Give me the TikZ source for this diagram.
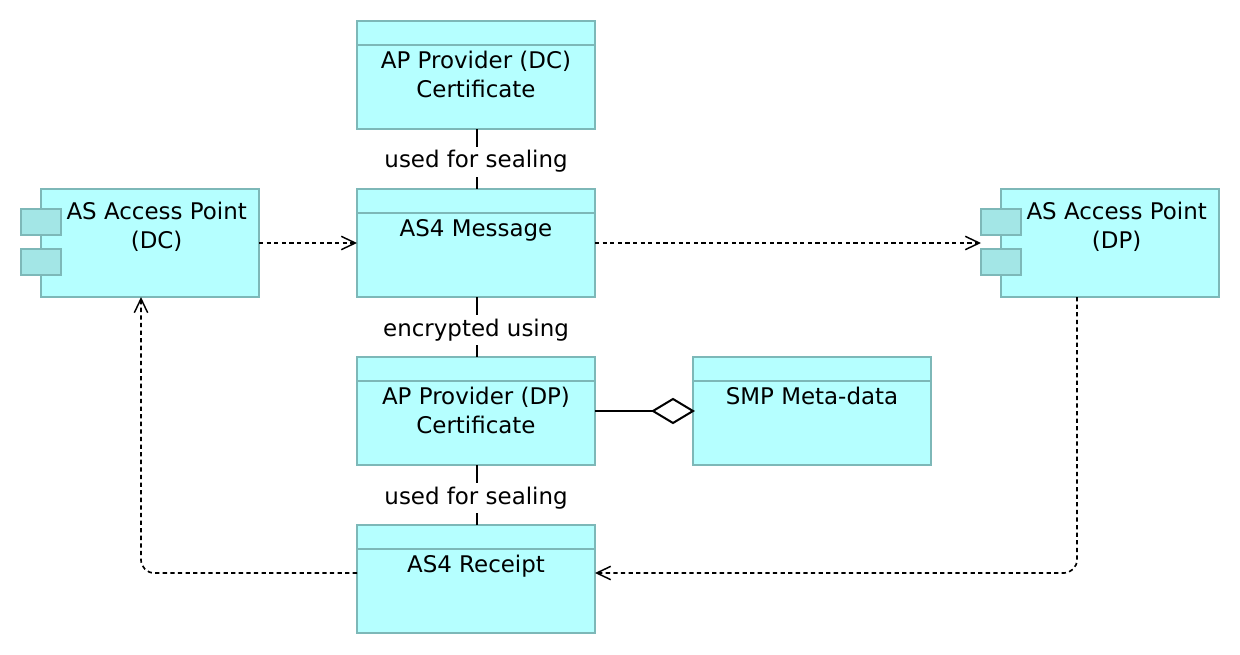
\documentclass[tikz,border=0pt]{standalone}
\usepackage{fontspec}
\setmainfont{DejaVu Sans}
\usetikzlibrary{arrows.meta,calc}
\definecolor{boxfill}{HTML}{B5FFFF}
\definecolor{boxline}{HTML}{7DB8B8}
\definecolor{tabfill}{HTML}{A3E6E6}
\tikzset{
  x=0.75pt,y=-0.75pt,
  every node/.style={inner sep=0pt,outer sep=0pt,font=\fontsize{17.2}{21.75}\selectfont},
  plainbox/.style={draw=boxline,fill=boxfill,line width=1.5pt,minimum width=178.5pt,minimum height=81pt,anchor=north west},
  objbox/.style={plainbox,path picture={\draw[boxline,line width=1.2pt]
    ($(path picture bounding box.north west)+(0,-18pt)$) -- ($(path picture bounding box.north east)+(0,-18pt)$);}},
  compbox/.style={plainbox,minimum width=163.5pt},
  tabbox/.style={draw=boxline,fill=tabfill,line width=1.5pt,minimum width=30pt,minimum height=19.5pt,anchor=north west},
  boxtext/.style={anchor=north,align=center,yshift=-22.5pt},
  comptext/.style={anchor=north,align=center,yshift=-9.5pt,xshift=5pt},
  solidlink/.style={black,line width=1.5pt},
  deplink/.style={black,line width=1.25pt,dash pattern=on 3.2pt off 2.5pt,rounded corners=10pt,-{Straight Barb[length=10.5pt,width=10pt,line width=1.1pt]}},
  linklabel/.style={fill=white,inner xsep=2pt,inner ysep=3pt,yshift=-2pt,xshift=-0.7pt}
}
\begin{document}
\begin{tikzpicture}
\useasboundingbox (0,0) rectangle (1240,654);
% objects
\node[objbox,label={[boxtext]north:AP Provider (DC)\\Certificate}] (cdc) at (357,21) {};
\node[objbox,label={[boxtext]north:AS4 Message}] (msg) at (357,189) {};
\node[objbox,label={[boxtext]north:AP Provider (DP)\\Certificate}] (cdp) at (357,357) {};
\node[objbox,label={[boxtext]north:AS4 Receipt}] (rcp) at (357,525) {};
\node[objbox,label={[boxtext]north:SMP Meta-data}] (smp) at (693,357) {};
% components
\node[compbox,label={[comptext]north:AS Access Point\\(DC)}] (apdc) at (41,189) {};
\node[tabbox] (tabdca) at (21,209) {};
\node[tabbox] (tabdcb) at (21,249) {};
\node[compbox,label={[comptext]north:AS Access Point\\(DP)}] (apdp) at (1001,189) {};
\node[tabbox] (tabdpa) at (981,209) {};
\node[tabbox] (tabdpb) at (981,249) {};
\coordinate (dpin) at (981,243);
\coordinate (dcin) at (141,297);
\coordinate (dpout) at (1077,297);
\coordinate (dccorner) at (141,573);
\coordinate (dpcorner) at (1077,573);
\coordinate (rcpin) at (595,573);
\coordinate (rcpout) at (357,573);
\coordinate (cdcs) at (477,129);
\coordinate (msgn) at (477,189);
\coordinate (msgs) at (477,297);
\coordinate (cdpn) at (477,357);
\coordinate (cdps) at (477,465);
\coordinate (rcpn) at (477,525);
% labelled solid connectors
\draw[solidlink] (cdcs) -- node[linklabel] {used for sealing} (msgn);
\draw[solidlink] (msgs) -- node[linklabel] {encrypted using} (cdpn);
\draw[solidlink] (cdps) -- node[linklabel] {used for sealing} (rcpn);
% aggregation
\draw[solidlink] (cdp.east) -- ($(smp.west)+(-30pt,0)$);
\draw[solidlink,fill=white,line join=miter] (smp.west) -- ++(-15pt,-9pt) -- ++(-15pt,9pt) -- ++(15pt,9pt) -- cycle;
% dependency connectors
\draw[deplink] (apdc.east) -- (msg.west);
\draw[deplink] (msg.east) -- (dpin);
\draw[deplink] (dpout) -- (dpcorner) -- (rcpin);
\draw[deplink] (rcpout) -- (dccorner) -- (dcin);
\end{tikzpicture}
\end{document}
